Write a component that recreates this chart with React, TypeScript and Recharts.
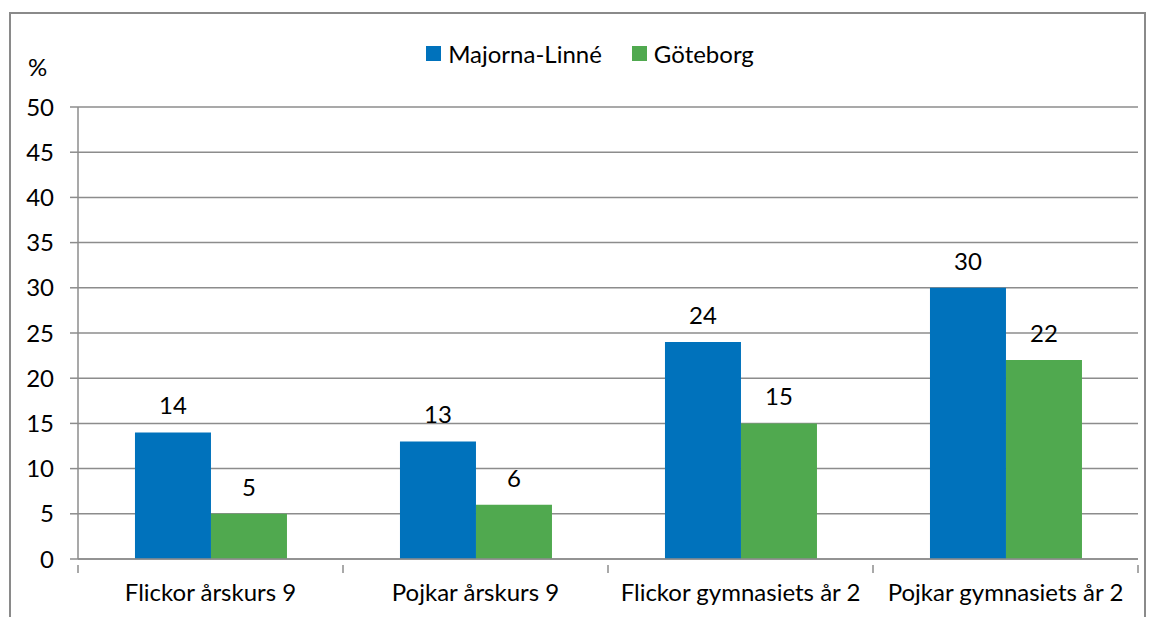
import React from "react";
import { BarChart, Bar, XAxis, YAxis, CartesianGrid, LabelList } from "recharts";

// ─── Data ────────────────────────────────────────────────────────────────────

const categories = ["Flickor årskurs 9", "Pojkar årskurs 9", "Flickor gymnasiets år 2", "Pojkar gymnasiets år 2"];
const majornaLinne = [14, 13, 24, 30];
const goteborg = [5, 6, 15, 22];
const yTicks = [0, 5, 10, 15, 20, 25, 30, 35, 40, 45, 50];

const data = categories.map((name, i) => ({ name, ml: majornaLinne[i], gbg: goteborg[i] }));

// ─── Style ───────────────────────────────────────────────────────────────────

const BLUE = "#0072BC";
const GREEN = "#50A94F";
const GRID = "#8C8C8C";
const FONT = "Lato, 'Open Sans', sans-serif";
const FS = 24;

const W = 1153;
const H = 617;
const M = { top: 107, right: 15, bottom: 0, left: 0 };
const Y_W = 78;
const X_H = 58;
const BAND = (W - M.right - Y_W) / categories.length;

// category ticks sit on the band edges, like the original
function CatTick(props: any) {
  const { x, y, payload, index } = props;
  const left = x - BAND / 2;
  return (
    <g>
      <line x1={left} x2={left} y1={y - 2} y2={y + 6} stroke={GRID} strokeWidth={1.5} />
      {index === categories.length - 1 && (
        <line x1={x + BAND / 2} x2={x + BAND / 2} y1={y - 2} y2={y + 6} stroke={GRID} strokeWidth={1.5} />
      )}
      <text x={x} y={y + 34} textAnchor="middle" fontSize={FS} fontFamily={FONT} fill="#000">
        {payload.value}
      </text>
    </g>
  );
}

function LegendBox() {
  const items = [
    { label: "Majorna-Linné", color: BLUE },
    { label: "Göteborg", color: GREEN },
  ];
  return (
    <div style={{ display: "flex", justifyContent: "center", gap: 30, fontFamily: FONT, fontSize: FS }}>
      {items.map((it) => (
        <div key={it.label} style={{ display: "flex", alignItems: "center" }}>
          <span style={{ display: "inline-block", width: 15, height: 15, background: it.color, marginRight: 7 }} />
          <span>{it.label}</span>
        </div>
      ))}
    </div>
  );
}

export default function App() {
  return (
    <div style={{ position: "absolute", left: 0, top: 0, width: W, height: H, background: "#fff", overflow: "hidden" }}>
      <div
        style={{
          position: "absolute",
          left: 9,
          top: 12,
          width: 1137,
          height: 640,
          border: "2px solid #8A8A8A",
          boxSizing: "border-box",
        }}
      />
      <div style={{ position: "absolute", left: 28, top: 52, fontFamily: FONT, fontSize: FS }}>%</div>
      <div style={{ position: "absolute", left: 0, top: 39, width: 1180 }}>
        <LegendBox />
      </div>
      <div style={{ position: "absolute", left: 0, top: 0 }}>
        <BarChart width={W} height={H} data={data} margin={M} barCategoryGap="21.5%" barGap={0}>
          <CartesianGrid vertical={false} stroke={GRID} strokeWidth={1.5} />
          <XAxis
            dataKey="name"
            height={X_H}
            tickLine={false}
            axisLine={{ stroke: GRID, strokeWidth: 1.5 }}
            tick={<CatTick />}
            interval={0}
          />
          <YAxis
            width={Y_W}
            domain={[0, 50]}
            ticks={yTicks}
            interval={0}
            tickSize={8}
            tickMargin={16}
            axisLine={{ stroke: GRID, strokeWidth: 1.5 }}
            tickLine={{ stroke: GRID, strokeWidth: 1.5 }}
            tick={{ fill: "#000", fontSize: FS, fontFamily: FONT }}
          />
          <Bar dataKey="ml" name="Majorna-Linné" fill={BLUE} isAnimationActive={false}>
            <LabelList dataKey="ml" position="top" offset={18} fill="#000" fontSize={FS} fontFamily={FONT} />
          </Bar>
          <Bar dataKey="gbg" name="Göteborg" fill={GREEN} isAnimationActive={false}>
            <LabelList dataKey="gbg" position="top" offset={18} fill="#000" fontSize={FS} fontFamily={FONT} />
          </Bar>
        </BarChart>
      </div>
    </div>
  );
}
